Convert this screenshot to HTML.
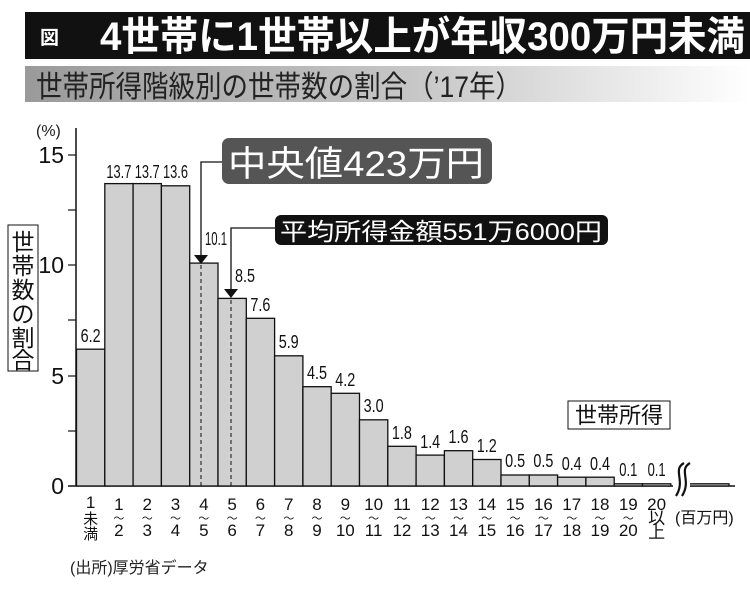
<!DOCTYPE html>
<html><head><meta charset="utf-8"><style>
html,body{margin:0;padding:0;background:#fff;width:750px;height:591px;overflow:hidden}
text{font-family:"Liberation Sans","Noto Sans CJK JP",sans-serif}
</style></head><body>
<svg width="750" height="591" viewBox="0 0 750 591" xmlns="http://www.w3.org/2000/svg">
<defs><linearGradient id="g" x1="0" x2="1"><stop offset="0" stop-color="#9a9a9a"/><stop offset="0.55" stop-color="#c8c8c8"/><stop offset="1" stop-color="#fff"/></linearGradient></defs>
<rect x="25" y="12" width="725" height="47" fill="#111"/>
<text x="40" y="44" font-size="19" font-weight="bold" fill="#fff">図</text>
<text x="100" y="50" font-size="40" font-weight="bold" fill="#fff" textLength="645" lengthAdjust="spacingAndGlyphs">4世帯に1世帯以上が年収300万円未満</text>
<rect x="25" y="66" width="725" height="36" fill="url(#g)"/>
<text x="36" y="97" font-size="30" fill="#222" textLength="486" lengthAdjust="spacingAndGlyphs">世帯所得階級別の世帯数の割合（’17年）</text>
<text x="36" y="136" font-size="16" fill="#222">(%)</text>
<line x1="76" y1="128" x2="76" y2="486" stroke="#111" stroke-width="1.5"/>
<line x1="68" y1="486" x2="735" y2="486" stroke="#111" stroke-width="1.5"/>
<g stroke="#111" stroke-width="1.2">
<line x1="68" y1="155" x2="76" y2="155"/><line x1="68" y1="210" x2="76" y2="210"/>
<line x1="68" y1="265" x2="76" y2="265"/><line x1="68" y1="320" x2="76" y2="320"/>
<line x1="68" y1="376" x2="76" y2="376"/><line x1="68" y1="431" x2="76" y2="431"/>
</g>
<g font-size="23" fill="#111" text-anchor="end">
<text x="64" y="163">15</text><text x="64" y="273">10</text><text x="64" y="384">5</text><text x="64" y="494">0</text>
</g>
<rect x="8" y="225" width="30" height="146" fill="#fff" stroke="#111"/>
<g font-size="23" fill="#111" text-anchor="middle">
<text x="23" y="250">世</text><text x="23" y="274">帯</text><text x="23" y="298">数</text><text x="23" y="322">の</text><text x="23" y="346">割</text><text x="23" y="368">合</text>
</g>
<g fill="#d0d0d0" stroke="#111" stroke-width="1.3">
<rect x="76.5" y="349.2" width="28.3" height="136.8"/>
<rect x="104.8" y="183.6" width="28.3" height="302.4"/>
<rect x="133.1" y="183.6" width="28.3" height="302.4"/>
<rect x="161.4" y="185.8" width="28.3" height="300.2"/>
<rect x="189.7" y="263.1" width="28.3" height="222.9"/>
<rect x="218" y="298.4" width="28.3" height="187.6"/>
<rect x="246.3" y="318.3" width="28.3" height="167.7"/>
<rect x="274.6" y="355.8" width="28.3" height="130.2"/>
<rect x="302.9" y="386.7" width="28.3" height="99.3"/>
<rect x="331.2" y="393.3" width="28.3" height="92.7"/>
<rect x="359.5" y="419.8" width="28.3" height="66.2"/>
<rect x="387.8" y="446.3" width="28.3" height="39.7"/>
<rect x="416.1" y="455.1" width="28.3" height="30.9"/>
<rect x="444.4" y="450.7" width="28.3" height="35.3"/>
<rect x="472.7" y="459.5" width="28.3" height="26.5"/>
<rect x="501" y="475" width="28.3" height="11"/>
<rect x="529.3" y="475" width="28.3" height="11"/>
<rect x="557.6" y="477.2" width="28.3" height="8.8"/>
<rect x="585.9" y="477.2" width="28.3" height="8.8"/>
<rect x="614.2" y="483.8" width="28.3" height="2.2"/>
<rect x="642.5" y="483.8" width="28.3" height="2.2"/>
<rect x="686" y="483.8" width="43" height="2.2"/>
</g>
<rect x="673" y="462" width="17" height="36" fill="#fff"/>
<path d="M684 463 C672 470,686 480,676 496 M690 463 C678 470,692 480,682 496" fill="none" stroke="#111" stroke-width="2.2"/>
<g stroke="#111" stroke-width="1" stroke-dasharray="4,3">
<line x1="201" y1="265" x2="201" y2="486"/><line x1="231" y1="300" x2="231" y2="486"/>
</g>
<g font-size="18" fill="#111" text-anchor="middle">
<text x="90.6" y="342" textLength="20" lengthAdjust="spacingAndGlyphs">6.2</text>
<text x="118.9" y="178" textLength="25" lengthAdjust="spacingAndGlyphs">13.7</text>
<text x="147.2" y="178" textLength="25" lengthAdjust="spacingAndGlyphs">13.7</text>
<text x="175.5" y="178" textLength="25" lengthAdjust="spacingAndGlyphs">13.6</text>
<text x="216" y="245" textLength="22" lengthAdjust="spacingAndGlyphs">10.1</text>
<text x="245" y="282" textLength="20" lengthAdjust="spacingAndGlyphs">8.5</text>
<text x="260.4" y="311" textLength="20" lengthAdjust="spacingAndGlyphs">7.6</text>
<text x="288.7" y="348" textLength="20" lengthAdjust="spacingAndGlyphs">5.9</text>
<text x="317" y="379" textLength="20" lengthAdjust="spacingAndGlyphs">4.5</text>
<text x="345.3" y="386" textLength="20" lengthAdjust="spacingAndGlyphs">4.2</text>
<text x="373.6" y="412" textLength="20" lengthAdjust="spacingAndGlyphs">3.0</text>
<text x="401.9" y="439" textLength="20" lengthAdjust="spacingAndGlyphs">1.8</text>
<text x="430.2" y="448" textLength="20" lengthAdjust="spacingAndGlyphs">1.4</text>
<text x="458.5" y="443" textLength="20" lengthAdjust="spacingAndGlyphs">1.6</text>
<text x="486.8" y="452" textLength="20" lengthAdjust="spacingAndGlyphs">1.2</text>
<text x="515.1" y="467" textLength="20" lengthAdjust="spacingAndGlyphs">0.5</text>
<text x="543.4" y="467" textLength="20" lengthAdjust="spacingAndGlyphs">0.5</text>
<text x="571.7" y="470" textLength="20" lengthAdjust="spacingAndGlyphs">0.4</text>
<text x="600" y="470" textLength="20" lengthAdjust="spacingAndGlyphs">0.4</text>
<text x="628.3" y="476" textLength="18" lengthAdjust="spacingAndGlyphs">0.1</text>
<text x="656.6" y="476" textLength="18" lengthAdjust="spacingAndGlyphs">0.1</text>
</g>
<rect x="222" y="138" width="270" height="46" rx="7" fill="#555"/>
<text x="228" y="176" font-size="35" fill="#fff" textLength="256" lengthAdjust="spacingAndGlyphs">中央値423万円</text>
<polyline points="222,162 201,162 201,256" fill="none" stroke="#111" stroke-width="1.3"/>
<polygon points="194,255 208,255 201,264" fill="#111"/>
<rect x="275" y="215" width="333" height="30" rx="6" fill="#111"/>
<text x="280" y="240" font-size="24" fill="#fff" textLength="322" lengthAdjust="spacingAndGlyphs">平均所得金額551万6000円</text>
<polyline points="275,228 231,228 231,290" fill="none" stroke="#111" stroke-width="1.3"/>
<polygon points="224,289 238,289 231,298" fill="#111"/>
<rect x="568" y="401" width="102" height="28" fill="#fff" stroke="#111"/>
<text x="619" y="423" font-size="22" fill="#111" text-anchor="middle">世帯所得</text>
<g font-size="17" fill="#111" text-anchor="middle">
<text x="90.6" y="508">1</text>
<text x="118.9" y="510">1</text><text x="118.9" y="536">2</text>
<text x="147.2" y="510">2</text><text x="147.2" y="536">3</text>
<text x="175.5" y="510">3</text><text x="175.5" y="536">4</text>
<text x="203.8" y="510">4</text><text x="203.8" y="536">5</text>
<text x="232.1" y="510">5</text><text x="232.1" y="536">6</text>
<text x="260.4" y="510">6</text><text x="260.4" y="536">7</text>
<text x="288.7" y="510">7</text><text x="288.7" y="536">8</text>
<text x="317" y="510">8</text><text x="317" y="536">9</text>
<text x="345.3" y="510">9</text><text x="345.3" y="536">10</text>
<text x="373.6" y="510">10</text><text x="373.6" y="536">11</text>
<text x="401.9" y="510">11</text><text x="401.9" y="536">12</text>
<text x="430.2" y="510">12</text><text x="430.2" y="536">13</text>
<text x="458.5" y="510">13</text><text x="458.5" y="536">14</text>
<text x="486.8" y="510">14</text><text x="486.8" y="536">15</text>
<text x="515.1" y="510">15</text><text x="515.1" y="536">16</text>
<text x="543.4" y="510">16</text><text x="543.4" y="536">17</text>
<text x="571.7" y="510">17</text><text x="571.7" y="536">18</text>
<text x="600" y="510">18</text><text x="600" y="536">19</text>
<text x="628.3" y="510">19</text><text x="628.3" y="536">20</text>
<text x="656.6" y="510">20</text><text x="656.6" y="524">以</text><text x="656.6" y="538">上</text>
</g>
<g font-size="15" fill="#111" text-anchor="middle">
<text x="90.6" y="524">未</text><text x="90.6" y="539">満</text>
</g>
<g font-size="11" fill="#111" text-anchor="middle">
<text x="118.9" y="522">〜</text><text x="147.2" y="522">〜</text><text x="175.5" y="522">〜</text><text x="203.8" y="522">〜</text><text x="232.1" y="522">〜</text><text x="260.4" y="522">〜</text><text x="288.7" y="522">〜</text><text x="317" y="522">〜</text><text x="345.3" y="522">〜</text><text x="373.6" y="522">〜</text><text x="401.9" y="522">〜</text><text x="430.2" y="522">〜</text><text x="458.5" y="522">〜</text><text x="486.8" y="522">〜</text><text x="515.1" y="522">〜</text><text x="543.4" y="522">〜</text><text x="571.7" y="522">〜</text><text x="600" y="522">〜</text><text x="628.3" y="522">〜</text>
</g>
<text x="675" y="523" font-size="16" fill="#111">(百万円)</text>
<text x="70" y="573" font-size="16" fill="#222">(出所)厚労省データ</text>
</svg>
</body></html>
